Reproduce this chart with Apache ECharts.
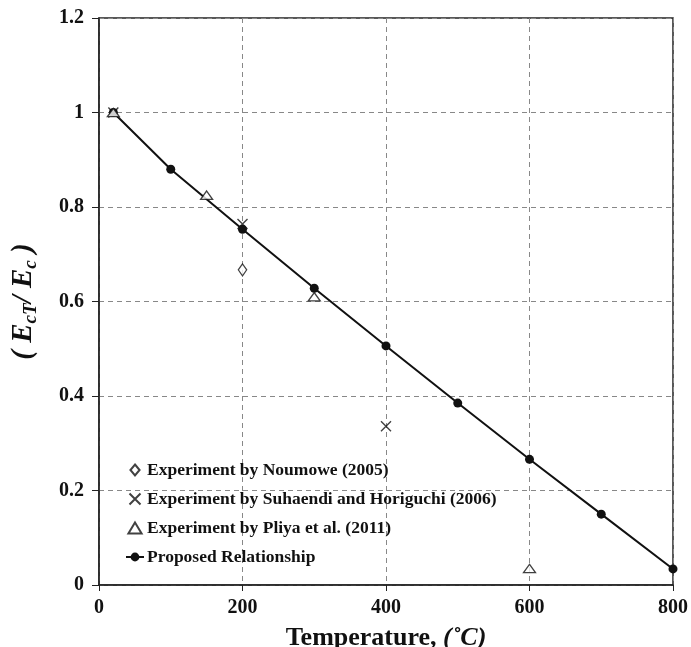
<!DOCTYPE html>
<html>
<head>
<meta charset="UTF-8">
<title>EcT/Ec vs temperature</title>
<script src="https://cdn.jsdelivr.net/npm/echarts@6/dist/echarts.min.js"></script>
<style>
    html, body { margin: 0; padding: 0; background: #fff; }
    #main { width: 691px; height: 647px; }
</style>
</head>
<body>
<div id="main"></div>
<script>
// data
var noumoweT = [200];
var noumoweR = [0.667];

var suhaendiT = [20, 200, 400];
var suhaendiR = [1.0, 0.764, 0.336];

var pliyaT = [20, 150, 300, 600];
var pliyaR = [1.0, 0.825, 0.61, 0.035];

var proposedT = [20, 100, 200, 300, 400, 500, 600, 700, 800];
var proposedR = [1.0, 0.88, 0.753, 0.628, 0.506, 0.385, 0.266, 0.15, 0.034];

var names = [
    'Experiment by Noumowe (2005)',
    'Experiment by Suhaendi and Horiguchi (2006)',
    'Experiment by Pliya et al. (2011)',
    'Proposed Relationship'
];

function pairs(xs, ys) {
    return xs.map(function (x, i) { return [x, ys[i]]; });
}

var serif = '"Liberation Serif", "Times New Roman", serif';
var crossPath = 'path://M0,0L10,10M10,0L0,10';
var diamondPath = 'path://M5,0L10,6L5,12L0,6Z';
var trianglePath = 'path://M6,0L12,10L0,10Z';

var chart = echarts.init(document.getElementById('main'));

var option = {
    backgroundColor: '#fff',
    animation: false,
    grid: {
        left: 99, right: 18, top: 18, bottom: 62,
        outerBoundsMode: 'none',
        containLabel: false,
        show: true, borderColor: '#222', borderWidth: 1.5
    },
    legend: {
        orient: 'vertical',
        left: 120,
        top: 456,
        itemWidth: 18,
        itemHeight: 11,
        itemGap: 11,
        data: names,
        textStyle: { fontFamily: serif, fontWeight: 'bold', fontSize: 17.5, color: '#111', padding: [0, 0, 0, -2] }
    },
    xAxis: {
        type: 'value',
        min: 0, max: 800, interval: 200,
        axisLine: { lineStyle: { color: '#222', width: 1.5 } },
        axisTick: { show: true, length: 6, lineStyle: { color: '#222' } },
        axisLabel: { fontFamily: serif, fontWeight: 'bold', fontSize: 20, color: '#111', margin: 13 },
        splitLine: { lineStyle: { color: '#888', type: [5, 4], width: 1 } },
        name: '{a|Temperature, }{b|(˚C)}',
        nameLocation: 'middle',
        nameGap: 40,
        nameTextStyle: {
            rich: {
                a: { fontFamily: serif, fontWeight: 'bold', fontSize: 26, color: '#111' },
                b: { fontFamily: serif, fontWeight: 'bold', fontStyle: 'italic', fontSize: 26, color: '#111' }
            }
        }
    },
    yAxis: {
        type: 'value',
        min: 0, max: 1.2, interval: 0.2,
        axisLine: { show: true, lineStyle: { color: '#222', width: 1.5 } },
        axisTick: { show: true, length: 7, lineStyle: { color: '#222' } },
        axisLabel: {
            fontFamily: serif, fontWeight: 'bold', fontSize: 20, color: '#111', margin: 15,
            formatter: function (v) { return String(Math.round(v * 10) / 10); }
        },
        splitLine: { lineStyle: { color: '#888', type: [5, 4], width: 1 } },
        name: '{p|( }{e|E}{s|cT}{p|/ }{e|E}{s|c}{p| )}',
        nameLocation: 'middle',
        nameRotate: 90,
        nameGap: 58,
        nameTextStyle: {
            rich: {
                p: { fontFamily: serif, fontWeight: 'bold', fontStyle: 'italic', fontSize: 29, color: '#111' },
                e: { fontFamily: serif, fontWeight: 'bold', fontStyle: 'italic', fontSize: 29, color: '#111' },
                s: { fontFamily: serif, fontWeight: 'bold', fontStyle: 'italic', fontSize: 19, color: '#111', padding: [16, 0, 0, 0] }
            }
        }
    },
    series: [
        {
            name: names[0],
            type: 'scatter',
            symbol: diamondPath,
            symbolSize: [10, 12],
            symbolKeepAspect: true,
            itemStyle: { color: '#fff', borderColor: '#111', borderWidth: 1.3 },
            data: pairs(noumoweT, noumoweR),
            z: 3
        },
        {
            name: names[1],
            type: 'scatter',
            symbol: crossPath,
            symbolSize: 10,
            symbolKeepAspect: true,
            itemStyle: { color: 'none', borderColor: '#111', borderWidth: 1.4 },
            data: pairs(suhaendiT, suhaendiR),
            z: 4
        },
        {
            name: names[2],
            type: 'scatter',
            symbol: trianglePath,
            symbolSize: [12, 10],
            symbolKeepAspect: true,
            itemStyle: { color: '#fff', borderColor: '#111', borderWidth: 1.3 },
            data: pairs(pliyaT, pliyaR),
            z: 5
        },
        {
            name: names[3],
            type: 'line',
            symbol: 'circle',
            symbolSize: 9,
            lineStyle: { color: '#111', width: 2 },
            itemStyle: { color: '#111' },
            data: pairs(proposedT, proposedR),
            z: 2
        }
    ]
};

chart.setOption(option);
</script>
</body>
</html>
